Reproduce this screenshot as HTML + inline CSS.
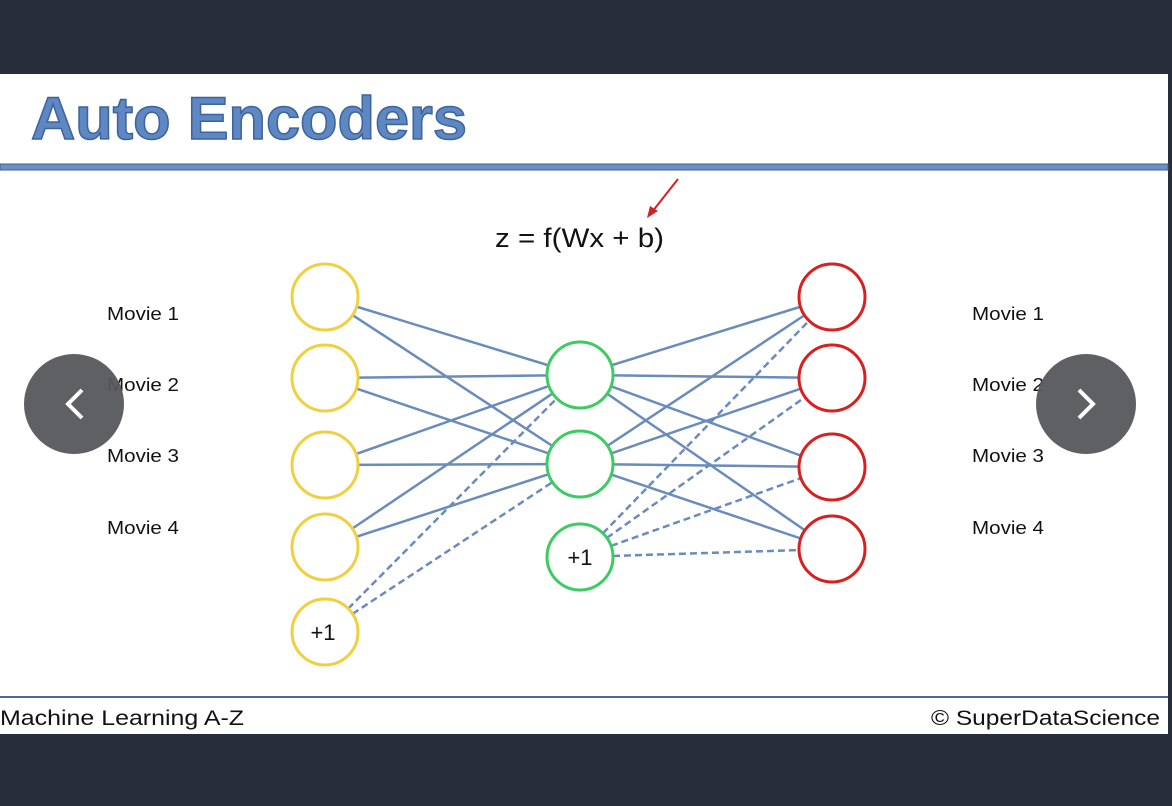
<!DOCTYPE html>
<html><head><style>
body{margin:0;width:1172px;height:806px;background:#282d3a;overflow:hidden;font-family:"Liberation Sans",sans-serif}
</style></head><body>
<svg width="1172" height="806" xmlns="http://www.w3.org/2000/svg" style="position:absolute;left:0;top:0">
<rect x="0" y="74" width="1168" height="660" fill="#fff"/>
<text x="31" y="139" font-family="Liberation Sans" font-weight="bold" font-size="60" fill="#5f87c1" stroke="#3b64a0" stroke-width="1.5" textLength="436" lengthAdjust="spacingAndGlyphs">Auto Encoders</text>
<rect x="0" y="164" width="1168" height="6" fill="#6a90c8" stroke="#3e5f8f" stroke-width="1"/>
<line x1="0" y1="697" x2="1168" y2="697" stroke="#4a6a98" stroke-width="2"/>
<text x="0" y="725" font-size="21" fill="#111" textLength="244" lengthAdjust="spacingAndGlyphs">Machine Learning A-Z</text>
<text x="931" y="725" font-size="21" fill="#111" textLength="229" lengthAdjust="spacingAndGlyphs">© SuperDataScience</text>
<text x="495" y="247" font-size="27" fill="#111" textLength="169" lengthAdjust="spacingAndGlyphs">z = f(Wx + b)</text>
<line x1="678" y1="179" x2="652" y2="212" stroke="#d42020" stroke-width="2"/>
<polygon points="647,218 650,206 658,211" fill="#d42020"/>
<g stroke="#6a8bbd" stroke-width="2.5">
<line x1="325" y1="297" x2="580" y2="375"/><line x1="325" y1="297" x2="580" y2="464"/>
<line x1="325" y1="378" x2="580" y2="375"/><line x1="325" y1="378" x2="580" y2="464"/>
<line x1="325" y1="465" x2="580" y2="375"/><line x1="325" y1="465" x2="580" y2="464"/>
<line x1="325" y1="547" x2="580" y2="375"/><line x1="325" y1="547" x2="580" y2="464"/>
<line x1="580" y1="375" x2="832" y2="297"/><line x1="580" y1="375" x2="832" y2="378"/><line x1="580" y1="375" x2="832" y2="467"/><line x1="580" y1="375" x2="832" y2="549"/>
<line x1="580" y1="464" x2="832" y2="297"/><line x1="580" y1="464" x2="832" y2="378"/><line x1="580" y1="464" x2="832" y2="467"/><line x1="580" y1="464" x2="832" y2="549"/>
</g>
<g stroke="#6a8bbd" stroke-width="2.5" stroke-dasharray="7,4">
<line x1="325" y1="632" x2="580" y2="375"/><line x1="325" y1="632" x2="580" y2="464"/>
<line x1="580" y1="557" x2="832" y2="297"/><line x1="580" y1="557" x2="832" y2="378"/><line x1="580" y1="557" x2="832" y2="467"/><line x1="580" y1="557" x2="832" y2="549"/>
</g>
<g fill="#fff" stroke-width="3">
<g stroke="#f0d040"><circle cx="325" cy="297" r="33"/><circle cx="325" cy="378" r="33"/><circle cx="325" cy="465" r="33"/><circle cx="325" cy="547" r="33"/><circle cx="325" cy="632" r="33"/></g>
<g stroke="#3ecb62"><circle cx="580" cy="375" r="33"/><circle cx="580" cy="464" r="33"/><circle cx="580" cy="557" r="33"/></g>
<g stroke="#d82020"><circle cx="832" cy="297" r="33"/><circle cx="832" cy="378" r="33"/><circle cx="832" cy="467" r="33"/><circle cx="832" cy="549" r="33"/></g>
</g>
<text x="323" y="640" font-size="22" fill="#111" text-anchor="middle">+1</text>
<text x="580" y="565" font-size="22" fill="#111" text-anchor="middle">+1</text>
<g font-size="18" fill="#111">
<text x="107" y="320" textLength="72" lengthAdjust="spacingAndGlyphs">Movie 1</text><text x="107" y="391" textLength="72" lengthAdjust="spacingAndGlyphs">Movie 2</text><text x="107" y="462" textLength="72" lengthAdjust="spacingAndGlyphs">Movie 3</text><text x="107" y="534" textLength="72" lengthAdjust="spacingAndGlyphs">Movie 4</text>
<text x="972" y="320" textLength="72" lengthAdjust="spacingAndGlyphs">Movie 1</text><text x="972" y="391" textLength="72" lengthAdjust="spacingAndGlyphs">Movie 2</text><text x="972" y="462" textLength="72" lengthAdjust="spacingAndGlyphs">Movie 3</text><text x="972" y="534" textLength="72" lengthAdjust="spacingAndGlyphs">Movie 4</text>
</g>
<circle cx="74" cy="404" r="50" fill="#55575c" opacity="0.95"/>
<circle cx="1086" cy="404" r="50" fill="#55575c" opacity="0.95"/>
<polyline points="82,390 68,404 82,418" fill="none" stroke="#fff" stroke-width="4"/>
<polyline points="1079,390 1093,404 1079,418" fill="none" stroke="#fff" stroke-width="4"/>
</svg>
</body></html>
